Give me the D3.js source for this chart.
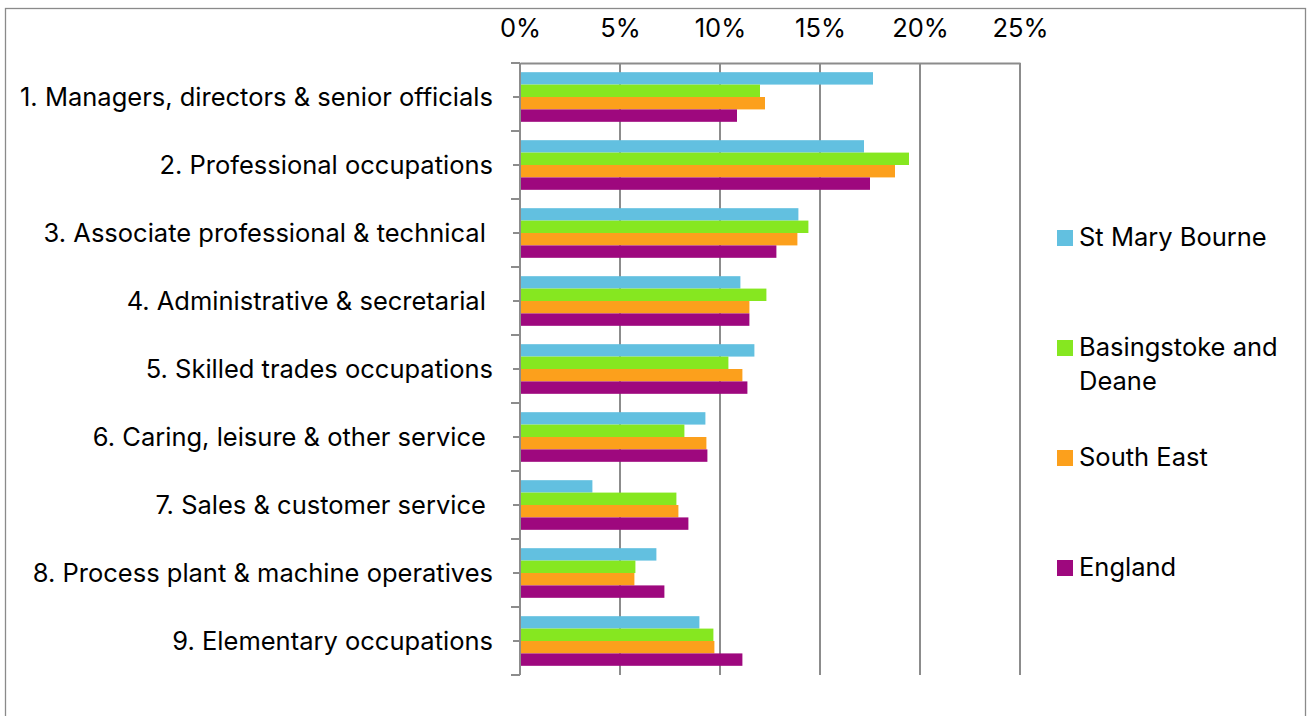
<!DOCTYPE html>
<html><head><meta charset="utf-8">
<script src="https://cdn.jsdelivr.net/npm/d3@7"></script>
<style>html,body{margin:0;padding:0;background:#fff;}svg{display:block;}</style>
</head><body>
<script>
const categories = [
  "1. Managers, directors & senior officials",
  "2. Professional occupations",
  "3. Associate professional & technical ",
  "4. Administrative & secretarial ",
  "5. Skilled trades occupations",
  "6. Caring, leisure & other service ",
  "7. Sales & customer service ",
  "8. Process plant & machine operatives",
  "9. Elementary occupations"
];
const seriesNames = ["St Mary Bourne", "Basingstoke and Deane", "South East", "England"];
const stMaryBourne = [17.65, 17.2, 13.92, 11.02, 11.72, 9.27, 3.62, 6.82, 8.97];
const basingstoke  = [12.0, 19.45, 14.42, 12.32, 10.42, 8.22, 7.82, 5.77, 9.67];
const southEast    = [12.25, 18.75, 13.87, 11.47, 11.12, 9.32, 7.92, 5.72, 9.72];
const england      = [10.85, 17.5, 12.82, 11.47, 11.37, 9.37, 8.42, 7.22, 11.12];
const tickValues = [0, 5, 10, 15, 20, 25];
const colors = ["#62C0E0", "#86E720", "#FCA01C", "#9E087E"];

const seriesValues = [stMaryBourne, basingstoke, southEast, england];
const W = 1307, H = 716;
const svg = d3.select("body").append("svg").attr("width", W).attr("height", H);
const font = "Inter, 'Noto Sans', sans-serif";
const fs = 25.5;

// outer frame
svg.append("rect").attr("x", 5.5).attr("y", 8.5).attr("width", 1300).attr("height", 720)
  .attr("fill", "none").attr("stroke", "#8a8a8a").attr("stroke-width", 1.3);

const x = d3.scaleLinear().domain([0, 25]).range([520, 1020]);
const y = d3.scaleBand().domain(categories).range([63, 675]).paddingInner(0).paddingOuter(0);
const inner = d3.scaleBand().domain(seriesNames).range([0, y.bandwidth()]).paddingInner(0).paddingOuter(0.74);

// vertical gridlines
svg.append("g").selectAll("line").data(tickValues).join("line")
  .attr("x1", d => x(d)).attr("x2", d => x(d)).attr("y1", 63).attr("y2", 675)
  .attr("stroke", "#8c8c8c").attr("stroke-width", 2);

// top axis
const topAxis = d3.axisTop(x).tickValues(tickValues).tickFormat(d => d + "%").tickSize(0).tickPadding(26);
const gTop = svg.append("g").attr("transform", "translate(0,63)").call(topAxis);
gTop.select(".domain").attr("stroke", "#8c8c8c").attr("stroke-width", 2);
gTop.selectAll("text").attr("font-family", font).attr("font-size", fs).attr("fill", "#000");

// bars
const rows = categories.map((c, i) => ({ c, vals: seriesValues.map((s, k) => ({ name: seriesNames[k], v: s[i], k })) }));
const gRows = svg.append("g").selectAll("g").data(rows).join("g")
  .attr("transform", d => `translate(0,${y(d.c)})`);
gRows.selectAll("rect").data(d => d.vals).join("rect")
  .attr("x", x(0)).attr("y", d => inner(d.name))
  .attr("width", d => x(d.v) - x(0)).attr("height", inner.bandwidth())
  .attr("fill", d => colors[d.k]);

// left axis
const leftAxis = d3.axisLeft(y).tickSize(7).tickPadding(20);
const gLeft = svg.append("g").attr("transform", "translate(520,0)").call(leftAxis);
gLeft.select(".domain").attr("stroke", "#8c8c8c").attr("stroke-width", 2).attr("d", "M0,63V675");
gLeft.selectAll(".tick line").attr("stroke", "#8c8c8c").attr("stroke-width", 2);
gLeft.selectAll("text").attr("font-family", font).attr("font-size", fs).attr("fill", "#000")
  .style("white-space", "pre").attr("dy", "0.37em");
// boundary ticks
const bounds = categories.map(c => y(c)).concat([675]);
svg.append("g").selectAll("line").data(bounds).join("line")
  .attr("x1", 511).attr("x2", 520).attr("y1", d => d).attr("y2", d => d)
  .attr("stroke", "#8c8c8c").attr("stroke-width", 2);

// legend
const legendY = [238, 348, 458, 568];
const lg = svg.append("g").selectAll("g").data(seriesNames).join("g")
  .attr("transform", (d, i) => `translate(1057,${legendY[i]})`);
lg.append("rect").attr("x", 0).attr("y", -8).attr("width", 16).attr("height", 16)
  .attr("fill", (d, i) => colors[i]);
lg.append("text").attr("x", 22).attr("y", 7.5)
  .attr("font-family", font).attr("font-size", fs).attr("fill", "#000")
  .each(function(d) {
    const t = d3.select(this);
    if (d === "Basingstoke and Deane") {
      t.append("tspan").attr("x", 22).text("Basingstoke and");
      t.append("tspan").attr("x", 22).attr("dy", 34.5).text("Deane");
    } else t.text(d);
  });
</script>
</body></html>
